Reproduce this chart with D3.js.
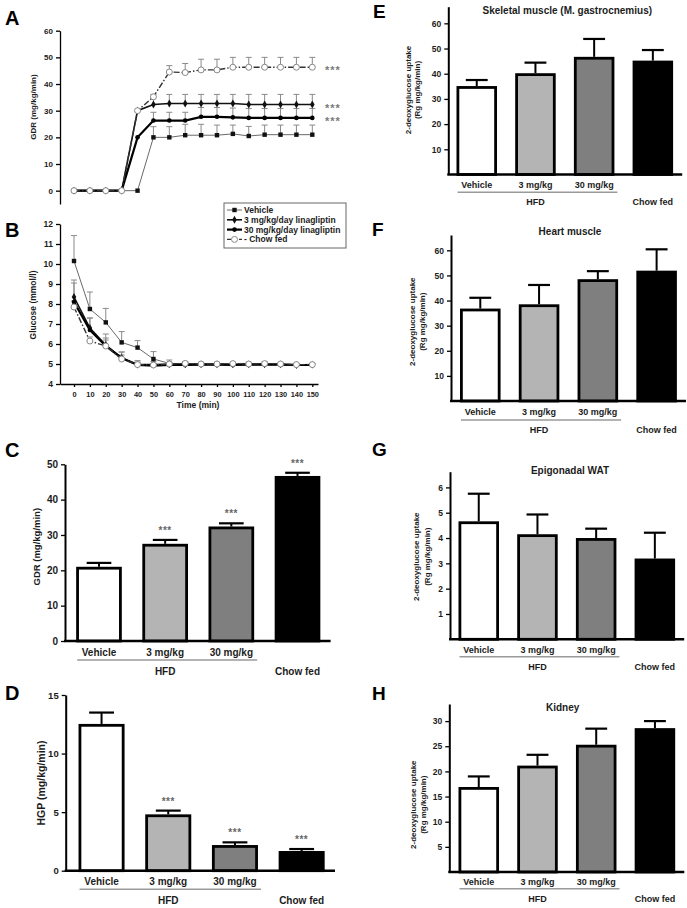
<!DOCTYPE html>
<html><head><meta charset="utf-8">
<script src="https://cdn.jsdelivr.net/npm/d3@7"></script>
<style>
body{margin:0;background:#fff;}
svg{display:block;font-family:"Liberation Sans",Arial,Helvetica,sans-serif;}
text{fill:#1c1c1c;font-weight:bold;}
</style></head><body>
<svg id="c" width="687" height="908"></svg>
<script>
// ---------------- DATA ----------------
const time = [0,10,20,30,40,50,60,70,80,90,100,110,120,130,140,150];
const legendNames = ["Vehicle","3 mg/kg/day linagliptin","30 mg/kg/day linagliptin","Chow fed"];

// Panel A: GDR over time (mg/kg/min)
const gdrVehicle = [0,0,0,0,0,20,20,20.8,20.8,20.8,21.3,20.5,21,21,21,21];
const gdrVehicleErr = [0,0,0,0,0,4,4,4.1,4.1,3.8,3.3,3.6,3.6,3.6,3.6,3.6];
const gdr3 = [0,0,0,0,30,32.3,32.7,32.7,32.7,32.7,32.7,32.3,32.3,32.3,32.3,32.3];
const gdr3Err = [0,0,0,0,0,3.8,3.4,3.4,3.4,3.4,3.4,3.8,3.8,3.8,3.8,3.8];
const gdr30 = [0,0,0,0,20,26.3,26.3,26.3,27.7,27.7,27.5,27.3,27.3,27.3,27.3,27.3];
const gdr30Err = [0,0,0,0,0,3.1,3.1,3.1,3.5,3.5,3.5,3.5,3.5,3.5,3.5,3.5];
const gdrChow = [0,0,0,0,30,35.2,44.5,44.3,45.3,45.3,46.3,46.3,46.3,46.3,46.3,46.3];
const gdrChowErr = [0,0,0,0,0,0,2.4,3.4,4,4,3.7,3.7,3.7,3.7,3.7,3.7];

// Panel B: glucose over time (mmol/l)
const gluVehicle = [10.15,7.75,7.08,6.08,5.82,5.25,5.03,5.02,5.0,5.0,5.0,5.0,5.02,4.98,4.97,4.97];
const gluVehicleErr = [1.27,0.85,0.7,0.54,0.35,0.37,0.17,0.1,0.06,0.06,0.08,0.08,0.1,0.06,0.05,0.06];
const glu3 = [8.35,6.8,5.95,5.3,4.97,4.97,4.98,4.98,4.98,4.98,4.98,4.98,4.98,4.98,4.95,4.97];
const glu3Err = [0.85,0.5,0.55,0.3,0.2,0.15,0.1,0.08,0.06,0.06,0.06,0.06,0.06,0.06,0.05,0.05];
const glu30 = [8.1,6.7,5.9,5.3,4.95,4.92,4.95,4.95,4.97,4.97,4.95,4.97,4.97,4.97,4.95,4.95];
const glu30Err = [0.95,0.6,0.4,0.3,0.15,0.1,0.08,0.06,0.06,0.06,0.06,0.06,0.06,0.06,0.05,0.05];
const gluChow = [7.85,6.15,5.9,5.25,4.97,4.95,5.0,5.03,5.0,5.0,5.02,5.0,5.02,5.0,4.97,4.97];
const gluChowErr = [0.3,0.2,0.3,0.2,0.1,0.08,0.06,0.06,0.05,0.05,0.05,0.05,0.05,0.05,0.05,0.05];

const starsA = ["***","***","***"];   // chow, 3 mg, 30 mg

// Bar panels
const groups = ["Vehicle","3 mg/kg","30 mg/kg","Chow fed"];
const hfdLabel = "HFD";
const gdrBar = [21.0,27.5,32.4,46.7];   const gdrBarErr = [1.1,1.1,0.9,0.9];
const hgpBar = [12.53,4.81,2.19,1.68];  const hgpBarErr = [0.97,0.32,0.23,0.17];
const barStars = ["","***","***","***"];
const skelBar = [35.1,40.2,46.7,45.2];  const skelErr = [2.4,4.2,7.1,4.2];
const heartBar = [36.8,38.5,48.5,51.9]; const heartErr = [4.3,7.7,3.2,8.5];
const watBar = [4.66,4.15,4.0,3.19];    const watErr = [1.09,0.78,0.37,1.02];
const kidBar = [16.9,21.15,25.3,28.6];  const kidErr = [2.1,2.15,3.2,1.4];
const uptakeLabel = ["2-deoxyglucose uptake","(Rg mg/kg/min)"];

// ---------------- DRAW ----------------
const FONT = '"Liberation Sans", Arial, Helvetica, sans-serif';
const svg = d3.select("#c");
const barFills = ["#ffffff","#b4b4b4","#7f7f7f","#000000"];
const fmt = d3.format("~g");

function styleAxis(g, fs, dw){
  g.attr("font-family", FONT).attr("font-size", fs);
  g.select(".domain").attr("stroke","#000").attr("stroke-width", dw);
  g.selectAll(".tick line").attr("stroke","#000").attr("stroke-width",1.3);
  g.selectAll(".tick text").attr("font-weight","bold");
}
function letter(t, x, y, fs){
  svg.append("text").attr("x",x).attr("y",y).attr("font-size",fs).style("fill","#000").text(t);
}
function yLabel(lines, xs, yc, fs){
  lines.forEach((l,i)=>{
    svg.append("text").attr("transform",`translate(${xs[i]},${yc}) rotate(-90)`)
      .attr("text-anchor","middle").attr("dy","0.35em").attr("font-size",fs).text(l);
  });
}

// ---- Panels A & B ----
const xT = d3.scaleLinear().domain([0,150]).range([74,312.3]);
const yA = d3.scaleLinear().domain([-5,60]).range([204,30.7]);
const yB = d3.scaleLinear().domain([4,12]).range([384,224]);

const seriesStyle = [
  {stroke:"#6a6a6a", sw:1, dash:null, mark:"square"},
  {stroke:"#111", sw:1.6, dash:null, mark:"diamond"},
  {stroke:"#000", sw:2.2, dash:null, mark:"dot"},
  {stroke:"#333", sw:1.4, dash:"6,2,1.5,2", mark:"open"}
];

function drawMarker(g, kind, cx, cy){
  if(kind==="square") g.append("rect").attr("x",cx-2.2).attr("y",cy-2.2).attr("width",4.4).attr("height",4.4).attr("fill","#111");
  else if(kind==="diamond") g.append("path").attr("transform",`translate(${cx},${cy})`).attr("d",d3.symbol(d3.symbolDiamond,18)()).attr("fill","#111");
  else if(kind==="dot") g.append("circle").attr("cx",cx).attr("cy",cy).attr("r",2.3).attr("fill","#000");
  else g.append("circle").attr("cx",cx).attr("cy",cy).attr("r",3).attr("fill","#fff").attr("stroke","#888").attr("stroke-width",1);
}

function timePanel(y, series){
  const g = svg.append("g");
  series.forEach(s=>{
    s.v.forEach((v,i)=>{
      if(s.e[i]>0){
        const x = xT(time[i]);
        g.append("line").attr("x1",x).attr("x2",x).attr("y1",y(v)).attr("y2",y(v+s.e[i])).attr("stroke","#8a8a8a").attr("stroke-width",1);
        g.append("line").attr("x1",x-3).attr("x2",x+3).attr("y1",y(v+s.e[i])).attr("y2",y(v+s.e[i])).attr("stroke","#8a8a8a").attr("stroke-width",1);
      }
    });
  });
  const line = d3.line().x((d,i)=>xT(time[i])).y(d=>y(d));
  series.forEach((s,k)=>{
    const st = seriesStyle[k];
    g.append("path").attr("d",line(s.v)).attr("fill","none").attr("stroke",st.stroke)
      .attr("stroke-width",st.sw).attr("stroke-dasharray",st.dash);
  });
  series.forEach((s,k)=>{
    s.v.forEach((v,i)=>drawMarker(g, seriesStyle[k].mark, xT(time[i]), y(v)));
  });
}

// A
letter("A",5,25,20);
svg.append("g").attr("transform","translate(60,0)")
  .call(d3.axisLeft(yA).tickValues([0,10,20,30,40,50,60]).tickFormat(fmt).tickSize(4).tickSizeOuter(0).tickPadding(3))
  .call(g=>styleAxis(g,8,1.3));
yLabel(["GDR (mg/kg/min)"],[33],107,8);
timePanel(yA,[
  {v:gdrVehicle,e:gdrVehicleErr},{v:gdr3,e:gdr3Err},{v:gdr30,e:gdr30Err},{v:gdrChow,e:gdrChowErr}
]);
[gdrChow,gdr3,gdr30].forEach((arr,i)=>{
  svg.append("text").attr("x",325).attr("y",yA(arr[arr.length-1])+7).attr("font-size",11)
    .attr("letter-spacing",1).style("fill","#7a7a7a").attr("font-weight","normal").text(starsA[i]);
});

// B
letter("B",5,237,20);
svg.append("g").attr("transform","translate(60,0)")
  .call(d3.axisLeft(yB).tickValues(d3.range(4,13)).tickFormat(fmt).tickSize(4).tickSizeOuter(0).tickPadding(3))
  .call(g=>styleAxis(g,8.5,1.3));
const xAxisScale = xT.copy().domain([xT.invert(60), xT.invert(318)]).range([60,318]);
svg.append("g").attr("transform","translate(0,384)")
  .call(d3.axisBottom(xAxisScale).tickValues(time).tickFormat(fmt).tickSize(3).tickSizeOuter(0).tickPadding(5))
  .call(g=>styleAxis(g,7.4,1.3));
yLabel(["Glucose (mmol/l)"],[33],305,8.5);
svg.append("text").attr("x",198).attr("y",408).attr("text-anchor","middle").attr("font-size",8.5).text("Time (min)");
timePanel(yB,[
  {v:gluVehicle,e:gluVehicleErr},{v:glu3,e:glu3Err},{v:glu30,e:glu30Err},{v:gluChow,e:gluChowErr}
]);

// legend
const lg = svg.append("g");
lg.append("rect").attr("x",224).attr("y",203).attr("width",122).attr("height",45).attr("fill","#fff").attr("stroke","#666").attr("stroke-width",1);
legendNames.forEach((n,k)=>{
  const cy = 210 + k*9.8;
  const st = seriesStyle[k];
  lg.append("line").attr("x1",227).attr("x2",242).attr("y1",cy).attr("y2",cy).attr("stroke",st.stroke)
    .attr("stroke-width",st.sw).attr("stroke-dasharray", k===3?"4,2":null);
  drawMarker(lg, st.mark, 234.5, cy);
  lg.append("text").attr("x",244).attr("y",cy+3).attr("font-size",8.5).text(k===3?"- "+n:n);
});

// ---- Bar panels ----
function barPanel(cfg, values, errs, stars){
  const g = svg.append("g");
  const y = d3.scaleLinear().domain([0,cfg.top]).range([cfg.y0,cfg.yT]);
  const x = d3.scaleBand().domain(groups).range(cfg.band).paddingInner(0.31).paddingOuter(0.155);
  letter(cfg.letter, cfg.lx, cfg.ly, cfg.lfs);
  if(cfg.title) g.append("text").attr("x",cfg.title[0]).attr("y",cfg.title[1]).attr("text-anchor","middle").attr("font-size",10).text(cfg.title[2]);
  g.append("g").attr("transform",`translate(${cfg.ax},0)`)
    .call(d3.axisLeft(y).tickValues(cfg.ticks).tickFormat(fmt).tickSize(4).tickSizeOuter(0).tickPadding(3))
    .call(a=>styleAxis(a,cfg.tfs,2));
  const bw = x.bandwidth();
  groups.forEach((c,i)=>{
    const cx = x(c)+bw/2, top = y(values[i]+errs[i]);
    g.append("line").attr("x1",cx).attr("x2",cx).attr("y1",y(values[i])).attr("y2",top).attr("stroke","#000").attr("stroke-width",2);
    g.append("line").attr("x1",cx-bw*0.27).attr("x2",cx+bw*0.27).attr("y1",top).attr("y2",top).attr("stroke","#000").attr("stroke-width",2.2);
    if(stars && stars[i]) g.append("text").attr("x",cx).attr("y",top-6).attr("text-anchor","middle")
      .attr("font-size",10).attr("font-weight","normal").style("fill","#666").attr("letter-spacing",0.5).text(stars[i]);
  });
  g.selectAll("rect.bar").data(values).join("rect").attr("class","bar")
    .attr("x",(d,i)=>x(groups[i])+1.4).attr("width",bw-2.8)
    .attr("y",d=>y(d)+1.4).attr("height",d=>y(0)-y(d)-1.4)
    .attr("fill",(d,i)=>barFills[i]).attr("stroke","#000").attr("stroke-width",2.8);
  g.append("line").attr("x1",cfg.ax-1).attr("x2",cfg.band[1]).attr("y1",cfg.y0).attr("y2",cfg.y0).attr("stroke","#000").attr("stroke-width",2.5);
  groups.slice(0,3).forEach(c=>{
    g.append("text").attr("x",x(c)+bw/2).attr("y",cfg.catY).attr("text-anchor","middle").attr("font-size",cfg.cfs).text(c);
  });
  g.append("line").attr("x1",x(groups[0])+1).attr("x2",x(groups[2])+bw+3).attr("y1",cfg.lineY).attr("y2",cfg.lineY).attr("stroke","#9a9a9a").attr("stroke-width",1.4);
  const hx = (x(groups[0])+x(groups[2])+bw)/2;
  g.append("text").attr("x",hx).attr("y",cfg.hfdY).attr("text-anchor","middle").attr("font-size",cfg.cfs).text(hfdLabel);
  g.append("text").attr("x",x(groups[3])+bw/2).attr("y",cfg.hfdY).attr("text-anchor","middle").attr("font-size",cfg.cfs).text(groups[3]);
  yLabel(cfg.ylab, cfg.ylx, cfg.yly, cfg.yfs);
}

barPanel({letter:"C",lx:5,ly:456.7,lfs:20,ax:65,y0:641,yT:464.3,top:50,ticks:[0,10,20,30,40,50],
  band:[65.9,330.6],tfs:10,cfs:10,catY:656,lineY:660,hfdY:675.3,ylab:["GDR (mg/kg/min)"],ylx:[36.5],yly:546.7,yfs:9.5},
  gdrBar,gdrBarErr,barStars);
barPanel({letter:"D",lx:5,ly:700,lfs:20,ax:65.7,y0:870.7,yT:695,top:15,ticks:[0,5,10,15],
  band:[68.2,335],tfs:9.5,cfs:10,catY:885.3,lineY:889.3,hfdY:904.3,ylab:["HGP (mg/kg/min)"],ylx:[41],yly:783,yfs:10.5},
  hgpBar,hgpBarErr,barStars);
barPanel({letter:"E",lx:373,ly:18.3,lfs:19,ax:448.3,y0:174.5,yT:6.7,top:66.6,ticks:[10,20,30,40,50,60],
  band:[447.4,682.2],tfs:8.5,cfs:9,catY:188.3,lineY:192.3,hfdY:205,title:[567.3,13.5,"Skeletal muscle (M. gastrocnemius)"],
  ylab:uptakeLabel,ylx:[408.3,417.3],yly:90,yfs:8},skelBar,skelErr,null);
barPanel({letter:"F",lx:372,ly:236,lfs:19,ax:451,y0:401,yT:235,top:66.1,ticks:[10,20,30,40,50,60],
  band:[450.9,686],tfs:8.5,cfs:9,catY:415,lineY:420,hfdY:432.5,title:[570,235,"Heart muscle"],
  ylab:uptakeLabel,ylx:[411.7,421.7],yly:321.7,yfs:8},heartBar,heartErr,null);
barPanel({letter:"G",lx:372,ly:455.5,lfs:19,ax:450,y0:639.3,yT:471.7,top:6.62,ticks:[1,2,3,4,5,6],
  band:[449.4,684.2],tfs:8.5,cfs:9,catY:652.5,lineY:656.7,hfdY:670,title:[570,473.5,"Epigonadal WAT"],
  ylab:uptakeLabel,ylx:[416,427.3],yly:556.7,yfs:8},watBar,watErr,null);
barPanel({letter:"H",lx:372,ly:699.7,lfs:19,ax:449.3,y0:872,yT:704,top:33.4,ticks:[5,10,15,20,25,30],
  band:[449.4,684.3],tfs:8.5,cfs:9,catY:884.7,lineY:888.7,hfdY:902,title:[562.7,710.8,"Kidney"],
  ylab:uptakeLabel,ylx:[412.7,422.7],yly:804.7,yfs:8},kidBar,kidErr,null);
</script>
</body></html>
